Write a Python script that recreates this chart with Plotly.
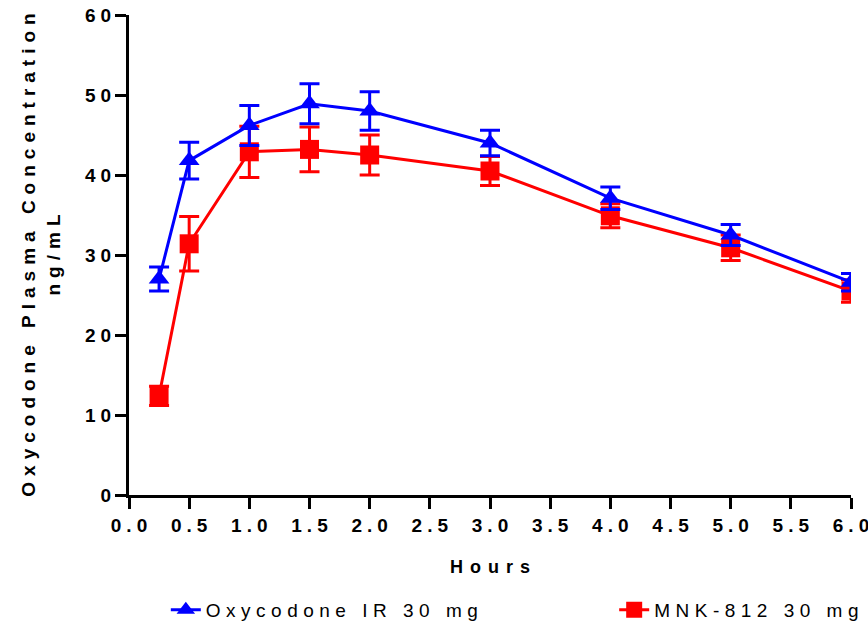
import plotly.graph_objects as go

hours = [0.25, 0.5, 1.0, 1.5, 2.0, 3.0, 4.0, 5.0, 6.0]
oxy_ir_mean = [27.0, 41.8, 46.2, 48.9, 48.0, 44.0, 37.1, 32.5, 26.6]
oxy_ir_err = [1.5, 2.3, 2.5, 2.5, 2.4, 1.6, 1.4, 1.3, 1.1]
mnk_mean = [12.4, 31.4, 42.9, 43.2, 42.5, 40.5, 34.9, 30.9, 25.5]
mnk_err = [1.2, 3.4, 3.2, 2.8, 2.5, 1.8, 1.5, 1.6, 1.4]

x_ticks = [0.0, 0.5, 1.0, 1.5, 2.0, 2.5, 3.0, 3.5, 4.0, 4.5, 5.0, 5.5, 6.0]
x_tick_labels = ["0.0", "0.5", "1.0", "1.5", "2.0", "2.5", "3.0", "3.5", "4.0", "4.5", "5.0", "5.5", "6.0"]
y_ticks = [0, 10, 20, 30, 40, 50, 60]
y_tick_labels = ["0", "10", "20", "30", "40", "50", "60"]


def spaced(text, px):
    # letter-spaced text without trailing space after the last character
    if len(text) < 2:
        return text
    return f"<span style='letter-spacing:{px}px'>{text[:-1]}</span>{text[-1]}"


FONT = "Arial, Liberation Sans, sans-serif"

fig = go.Figure()
fig.add_trace(go.Scatter(
    x=hours, y=mnk_mean, name=spaced("MNK-812 30 mg", 5.5), mode="lines+markers",
    line=dict(color="#ff0000", width=3),
    marker=dict(symbol="square", size=19, color="#ff0000"),
    error_y=dict(type="data", array=mnk_err, color="#ff0000", thickness=3, width=10),
    legend="legend2",
))
fig.add_trace(go.Scatter(
    x=hours, y=oxy_ir_mean, name=spaced("Oxycodone IR 30 mg", 5.5), mode="lines+markers",
    line=dict(color="#0000ff", width=3),
    marker=dict(symbol="triangle-up", size=18, color="#0000ff"),
    error_y=dict(type="data", array=oxy_ir_err, color="#0000ff", thickness=3, width=10),
    legend="legend",
))

axis_font = dict(family=FONT, size=19, color="black", weight="bold")
legend_font = dict(family=FONT, size=19, color="black")
fig.update_layout(
    width=868, height=630,
    margin=dict(l=129, r=17, t=15, b=135, autoexpand=False),
    plot_bgcolor="white", paper_bgcolor="white",
    showlegend=True,
    legend=dict(x=0.051, y=0.032, yref="container", xanchor="left", yanchor="middle", orientation="h",
                font=legend_font, bgcolor="rgba(0,0,0,0)"),
    legend2=dict(x=0.672, y=0.032, yref="container", xanchor="left", yanchor="middle", orientation="h",
                 font=legend_font, bgcolor="rgba(0,0,0,0)"),
    xaxis=dict(range=[0, 6], tickvals=x_ticks, ticktext=[spaced(t, 5) for t in x_tick_labels],
               ticklabeloverflow="allow",
               showline=True, linecolor="black", linewidth=3, mirror=False,
               ticks="outside", ticklen=11, tickwidth=3, tickcolor="black",
               showgrid=False, zeroline=False, tickfont=axis_font,
               title=dict(text=spaced("Hours", 7), font=dict(family=FONT, size=18, color="black", weight="bold"), standoff=26)),
    yaxis=dict(range=[0, 60], tickvals=y_ticks, ticktext=[spaced(t, 5) for t in y_tick_labels],
               showline=True, linecolor="black", linewidth=3,
               ticks="outside", ticklen=11, tickwidth=3, tickcolor="black",
               showgrid=False, zeroline=False, tickfont=axis_font,
               title=dict(text=spaced("Oxycodone Plasma Concentration", 6) + "<br>" + spaced("ng/mL", 6),
                          font=dict(family=FONT, size=19, color="black", weight="bold"), standoff=20)),
)

fig.write_html("out.html")
